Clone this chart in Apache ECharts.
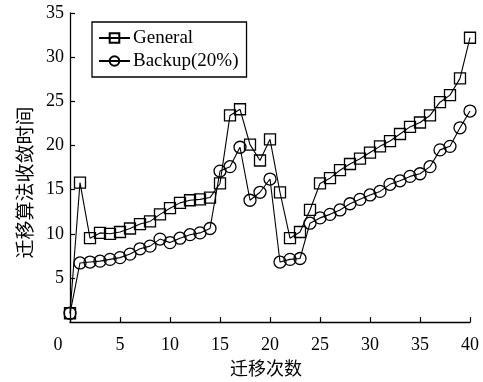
<!DOCTYPE html>
<html>
<head>
<meta charset="utf-8">
<script src="https://cdn.jsdelivr.net/npm/echarts@6/dist/echarts.min.js"></script>
<style>
  html, body { margin: 0; padding: 0; background: #fff; }
  #chart { width: 483px; height: 382px; }
</style>
</head>
<body>
<div id="chart"></div>
<script>
// Migration count (x) and convergence time of the migration algorithm (y)
const migrations = [0, 1, 2, 3, 4, 5, 6, 7, 8, 9, 10, 11, 12, 13, 14, 15, 16, 17, 18, 19, 20,
                    21, 22, 23, 24, 25, 26, 27, 28, 29, 30, 31, 32, 33, 34, 35, 36, 37, 38, 39, 40];
const general = [1.0, 15.8, 9.5, 10.1, 10.0, 10.2, 10.6, 11.1, 11.4, 12.2, 12.9, 13.5, 13.8, 13.9, 14.1,
                 15.7, 23.4, 24.1, 20.1, 18.3, 20.7, 14.7, 9.5, 10.2, 12.7, 15.7, 16.3, 17.2, 17.9, 18.5,
                 19.2, 19.9, 20.5, 21.3, 22.1, 22.6, 23.4, 24.9, 25.7, 27.6, 32.2];
const backup = [1.0, 6.7, 6.8, 6.9, 7.1, 7.3, 7.7, 8.3, 8.6, 9.4, 9.0, 9.5, 9.9, 10.1, 10.6,
                17.1, 17.6, 19.8, 13.8, 14.7, 16.2, 6.8, 7.1, 7.2, 11.2, 11.8, 12.2, 12.7, 13.4, 13.9,
                14.4, 14.8, 15.6, 16.0, 16.5, 16.8, 17.6, 19.5, 19.9, 22.0, 23.9];
const seriesNames = ['General', 'Backup(20%)'];
const xTitle = '迁移次数';
const yTitle = '迁移算法收敛时间';

const serif = '"Liberation Serif", "DejaVu Serif", serif';
const cjk = '"Noto Sans CJK SC", sans-serif';

const pairs = ys => migrations.map((x, i) => [x, ys[i]]);

// hollow markers: the connecting line shows through them
const markerStyle = {
  color: 'rgba(0,0,0,0)',
  borderColor: '#000',
  borderWidth: 1.3
};

const chart = echarts.init(document.getElementById('chart'), null, { renderer: 'canvas' });
chart.setOption({
  animation: false,
  backgroundColor: '#fff',
  grid: { left: 70, right: 13, top: 13, bottom: 54, containLabel: false },
  legend: {
    orient: 'vertical',
    left: 92,
    top: 22,
    padding: [6, 8, 6, 6],
    itemGap: 3,
    itemWidth: 31,
    itemHeight: 12,
    borderColor: '#000',
    borderWidth: 1.3,
    borderRadius: 0,
    textStyle: { fontFamily: serif, fontSize: 19, color: '#000', lineHeight: 20, padding: [0, 0, 0, -2] },
    data: seriesNames
  },
  xAxis: {
    type: 'value',
    min: 0,
    max: 40,
    interval: 5,
    name: xTitle,
    nameLocation: 'middle',
    nameGap: 34,
    nameTextStyle: { fontFamily: cjk, fontSize: 18, color: '#000', padding: [0, 8, 0, 0] },
    axisLine: { lineStyle: { color: '#000', width: 1.3 } },
    axisTick: { inside: true, length: 5, lineStyle: { color: '#000', width: 1.2 } },
    axisLabel: {
      color: '#000', fontFamily: serif, fontSize: 18, margin: 14,
      formatter: v => (v === 0 ? '{o|0}' : String(v)),
      rich: { o: { fontFamily: serif, fontSize: 18, color: '#000', padding: [0, 24, 0, 0] } }
    },
    splitLine: { show: false }
  },
  yAxis: {
    type: 'value',
    min: 0,
    max: 35,
    interval: 5,
    name: yTitle,
    nameLocation: 'middle',
    nameGap: 36,
    nameRotate: 90,
    nameTextStyle: { fontFamily: cjk, fontSize: 19, color: '#000', padding: [0, 30, 0, 0] },
    axisLine: { lineStyle: { color: '#000', width: 1.3 } },
    axisTick: { inside: true, length: 5, lineStyle: { color: '#000', width: 1.2 } },
    axisLabel: { color: '#000', fontFamily: serif, fontSize: 18, margin: 6, showMinLabel: false },
    splitLine: { show: false }
  },
  series: [
    {
      name: seriesNames[0],
      type: 'line',
      data: pairs(general),
      symbol: 'rect',
      symbolSize: 11,
      itemStyle: markerStyle,
      lineStyle: { color: '#000', width: 1.1 },
      color: '#000'
    },
    {
      name: seriesNames[1],
      type: 'line',
      data: pairs(backup),
      symbol: 'circle',
      symbolSize: 12,
      itemStyle: markerStyle,
      lineStyle: { color: '#000', width: 1.1 },
      color: '#000'
    }
  ]
});
</script>
</body>
</html>
